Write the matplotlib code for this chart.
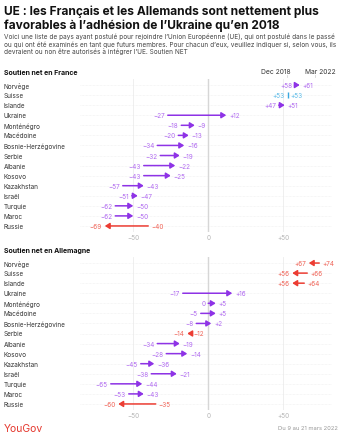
import matplotlib.pyplot as plt
from matplotlib.transforms import blended_transform_factory

plt.rcParams['font.family'] = ['Inter', 'DejaVu Sans']

countries = ["Norvège", "Suisse", "Islande", "Ukraine", "Monténégro", "Macédoine",
             "Bosnie-Herzégovine", "Serbie", "Albanie", "Kosovo", "Kazakhstan",
             "Israël", "Turquie", "Maroc", "Russie"]

fr_2018 = [58, 53, 47, -27, -18, -20, -34, -32, -43, -43, -57, -51, -62, -62, -40]
fr_2022 = [61, 53, 51, 12, -9, -13, -16, -19, -22, -25, -43, -47, -50, -50, -69]

de_2018 = [74, 66, 64, -17, 0, -5, -8, -12, -34, -28, -45, -38, -65, -53, -35]
de_2022 = [67, 56, 56, 16, 5, 5, 2, -14, -19, -14, -36, -21, -44, -43, -60]

xticks = [-50, 0, 50]
xtick_labels = ["−50", "0", "+50"]

PURPLE = "#8e33e6"
PURPLE_LBL = "#b06af0"
RED = "#ec3d33"
RED_LBL = "#f06458"
BLUE = "#3aa8e0"
BLUE_LBL = "#5bbbe8"
GRID = "#eeeeee"

W, H = 342, 439
fig = plt.figure(figsize=(W / 100, H / 100), dpi=100)


def fmt(v):
    if v > 0:
        return f"+{v}"
    if v < 0:
        return f"−{abs(v)}"
    return "0"


def panel(top, start, end):
    bottom = top + 153
    ax = fig.add_axes([80 / W, 1 - bottom / H, 252 / W, 153 / H])
    ax.set_xlim(-85.5, 82.5)
    ax.set_ylim(len(countries) - 0.4, -0.6)
    for s in ax.spines.values():
        s.set_visible(False)
    ax.set_yticks([])
    ax.set_xticks(xticks)
    ax.set_xticklabels(xtick_labels, fontsize=4.6, color="#b5b5b5")
    ax.tick_params(axis="x", length=0, pad=1.5)
    for i in range(len(countries)):
        ax.axhline(i, color=GRID, lw=0.5, ls=(0, (1, 1)), zorder=0)
    ax.axvline(-50, color="#ececec", lw=0.6, zorder=0)
    ax.axvline(50, color="#ececec", lw=0.6, zorder=0)
    ax.axvline(0, color="#d6d6d6", lw=1.0, zorder=0)

    tr = blended_transform_factory(fig.transFigure, ax.transData)
    for i, (c, a, b) in enumerate(zip(countries, start, end)):
        ax.text(4 / W, i, c, transform=tr, fontsize=4.6, color="#333333",
                va="center", ha="left")
        if a == b:
            ax.plot([a], [i], marker="|", ms=4, mew=1.0, color=BLUE)
            ax.annotate(fmt(a), (a, i), xytext=(-2, 0), textcoords="offset points",
                        ha="right", va="center", fontsize=4.6, color=BLUE_LBL)
            ax.annotate(fmt(b), (b, i), xytext=(2, 0), textcoords="offset points",
                        ha="left", va="center", fontsize=4.6, color=BLUE_LBL)
            continue
        col, lcol = (PURPLE, PURPLE_LBL) if b > a else (RED, RED_LBL)
        ax.annotate("", xy=(b, i), xytext=(a, i),
                    arrowprops=dict(arrowstyle="-|>,head_length=0.4,head_width=0.25",
                                    mutation_scale=7, color=col, lw=1.1,
                                    shrinkA=0, shrinkB=0))
        d = 1 if b > a else -1
        ax.annotate(fmt(a), (a, i), xytext=(-2 * d, 0), textcoords="offset points",
                    ha="right" if d > 0 else "left", va="center",
                    fontsize=4.6, color=lcol)
        ax.annotate(fmt(b), (b, i), xytext=(2 * d, 0), textcoords="offset points",
                    ha="left" if d > 0 else "right", va="center",
                    fontsize=4.6, color=lcol)
    return ax


# titles
fig.text(4 / W, 1 - 12 / H, "UE : les Français et les Allemands sont nettement plus",
         fontsize=8.6, fontweight="bold", color="#111111", va="center")
fig.text(4 / W, 1 - 26 / H, "favorables à l’adhésion de l’Ukraine qu’en 2018",
         fontsize=8.6, fontweight="bold", color="#111111", va="center")
sub = ["Voici une liste de pays ayant postulé pour rejoindre l’Union Européenne (UE), qui ont postulé dans le passé",
       "ou qui ont été examinés en tant que futurs membres. Pour chacun d’eux, veuillez indiquer si, selon vous, ils",
       "devraient ou non être autorisés à intégrer l’UE. Soutien NET"]
for k, line in enumerate(sub):
    fig.text(4 / W, 1 - (37 + 7.5 * k) / H, line, fontsize=4.65, color="#444444", va="center")

fig.text(4 / W, 1 - 73 / H, "Soutien net en France", fontsize=5.0, fontweight="bold",
         color="#111111", va="center")
fig.text(276 / W, 1 - 72 / H, "Dec 2018", fontsize=4.8, color="#333333", va="center", ha="center")
fig.text(320 / W, 1 - 72 / H, "Mar 2022", fontsize=4.8, color="#333333", va="center", ha="center")
fig.lines.append(plt.Line2D([287 / W, 287 / W], [1 - 76 / H, 1 - 78 / H],
                            transform=fig.transFigure, color="#cccccc", lw=0.5))
fig.lines.append(plt.Line2D([315 / W, 315 / W], [1 - 76 / H, 1 - 78 / H],
                            transform=fig.transFigure, color="#cccccc", lw=0.5))

panel(80, fr_2018, fr_2022)

fig.text(4 / W, 1 - 251 / H, "Soutien net en Allemagne", fontsize=5.0, fontweight="bold",
         color="#111111", va="center")
panel(258, de_2018, de_2022)

fig.text(4 / W, 1 - 429 / H, "YouGov", fontsize=7.5, color="#e5382e", va="center")
fig.text(338 / W, 1 - 429 / H, "Du 9 au 21 mars 2022", fontsize=4.2, color="#999999",
         va="center", ha="right")

fig.savefig("out.png", dpi=100)
